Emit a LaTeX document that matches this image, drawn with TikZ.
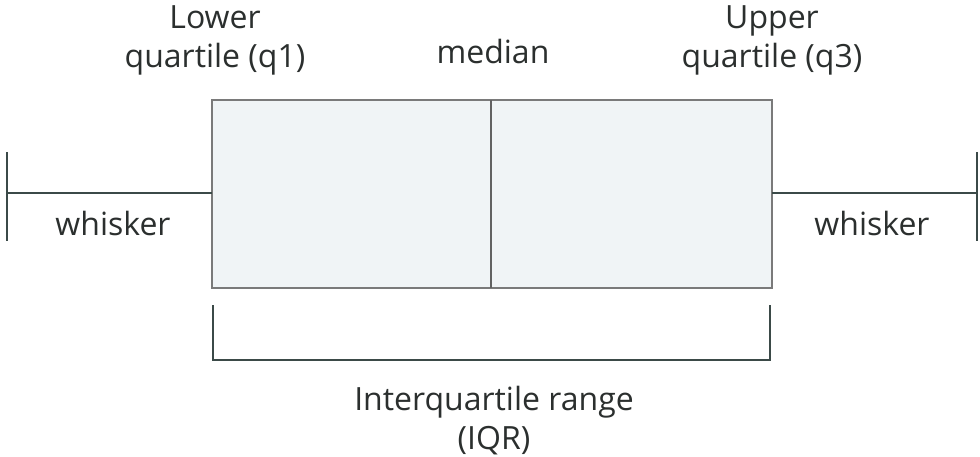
\documentclass[tikz,border=0pt]{standalone}
\usepackage{fontspec}
\setmainfont{Open Sans}
\definecolor{txt}{HTML}{2B2F2E}
\definecolor{ln}{HTML}{3B4A48}
\definecolor{boxfill}{HTML}{F0F4F6}
\definecolor{boxline}{HTML}{7A7A7A}
\begin{document}
\begin{tikzpicture}[x=1pt,y=-1pt,
  lbl/.style={text=txt,font=\fontsize{32}{39}\selectfont,align=center,inner sep=0pt},
  wline/.style={draw=ln,line width=2pt},
  boxst/.style={draw=boxline,fill=boxfill,line width=2pt}]
\useasboundingbox (0,0) rectangle (980,456);
% box
\draw[boxst] (212,100) rectangle (772,288);
\coordinate (q1m) at (212,193);
\coordinate (q3m) at (772,193);
\coordinate (medt) at (491,100);
\coordinate (medb) at (491,288);
\draw[draw=boxline!80!black,line width=2pt] (medt) -- (medb);
% whiskers
\coordinate (lw) at (7,193);
\coordinate (rw) at (977,193);
\coordinate (lwt) at (7,152);
\coordinate (lwb) at (7,241);
\coordinate (rwt) at (977,152);
\coordinate (rwb) at (977,241);
\draw[wline] (lw) -- (q1m);
\draw[wline] (q3m) -- (rw);
\draw[wline] (lwt) -- (lwb);
\draw[wline] (rwt) -- (rwb);
% bracket
\coordinate (bl) at (213,305);
\coordinate (br) at (770,305);
\coordinate (bbl) at (213,360);
\coordinate (bbr) at (770,360);
\draw[wline] (bl) -- (bbl) -- (bbr) -- (br);
% labels
\node[lbl] (lq) at (215,40) {Lower\\quartile (q1)};
\node[lbl] (uq) at (772,40) {Upper\\quartile (q3)};
\node[lbl] (med) at (493,51) {median};
\node[lbl] (lwl) at (113,223) {whisker};
\node[lbl] (rwl) at (872,223) {whisker};
\node[lbl] (iqr) at (494,421) {Interquartile range\\(IQR)};
\end{tikzpicture}
\end{document}
